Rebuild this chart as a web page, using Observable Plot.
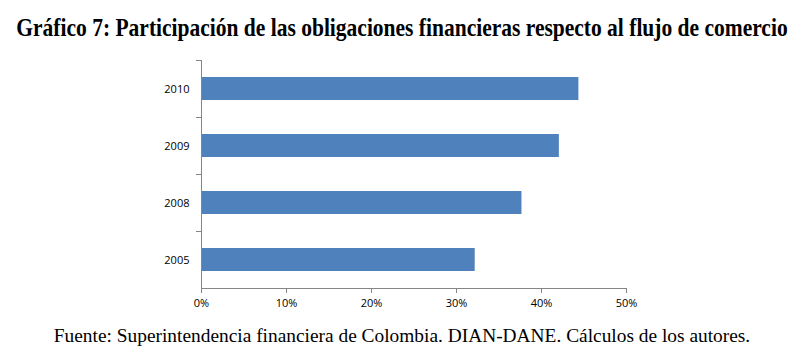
<!DOCTYPE html>
<html><head><meta charset="utf-8">
<script src="https://cdn.jsdelivr.net/npm/d3@7"></script>
<script src="https://cdn.jsdelivr.net/npm/@observablehq/plot@0.6"></script>
<style>
body{margin:0;background:#fff;}
#wrap{position:relative;width:807px;height:357px;overflow:hidden;}
.txt{position:absolute;left:402px;font-family:"Liberation Serif",serif;line-height:1;color:#000;white-space:nowrap;transform-origin:center;}
#title{top:15px;font-weight:bold;font-size:25px;transform:translateX(-50%) scaleX(0.86);}
#caption{top:326px;font-size:19px;transform:translateX(-50%) scaleX(1.02);}
#chart{position:absolute;left:0;top:0;}
</style></head>
<body>
<div id="wrap">
<div id="chart"></div>
<div id="title" class="txt">Gráfico 7: Participación de las obligaciones financieras respecto al flujo de comercio</div>
<div id="caption" class="txt">Fuente: Superintendencia financiera de Colombia. DIAN-DANE. Cálculos de los autores.</div>
</div>
<script>
const years = ["2010", "2009", "2008", "2005"];
const values = [0.444, 0.421, 0.377, 0.322];
const xTicks = [0, 0.1, 0.2, 0.3, 0.4, 0.5];

const data = years.map((y, i) => ({year: y, value: values[i]}));
const axisColor = "#868686";
const step = 57;

const chart = Plot.plot({
  width: 807,
  height: 357,
  marginLeft: 201,
  marginRight: 181,
  marginTop: 60,
  marginBottom: 69,
  style: {fontFamily: "'Open Sans', sans-serif", fontSize: "11px", color: "#000", background: "transparent"},
  x: {domain: [0, 0.5], label: null},
  y: {domain: years, paddingInner: 0.6, paddingOuter: 0.3, label: null},
  marks: [
    Plot.barX(data, {x: "value", y: "year", fill: "#4F81BD"}),
    Plot.ruleX([0], {stroke: axisColor}),
    Plot.ruleY([years[years.length - 1]], {stroke: axisColor, dy: step / 2}),
    Plot.axisY({tickSize: 5, text: null, stroke: axisColor, dy: -step / 2}),
    Plot.axisY({tickSize: 0, tickPadding: 12, fill: "#000", fontSize: 11}),
    Plot.axisX({ticks: xTicks, tickSize: 5, stroke: axisColor, tickPadding: 6, tickFormat: d3.format(".0%"), fill: "#000", fontSize: 11})
  ]
});
document.getElementById("chart").appendChild(chart);
</script>
</body></html>
